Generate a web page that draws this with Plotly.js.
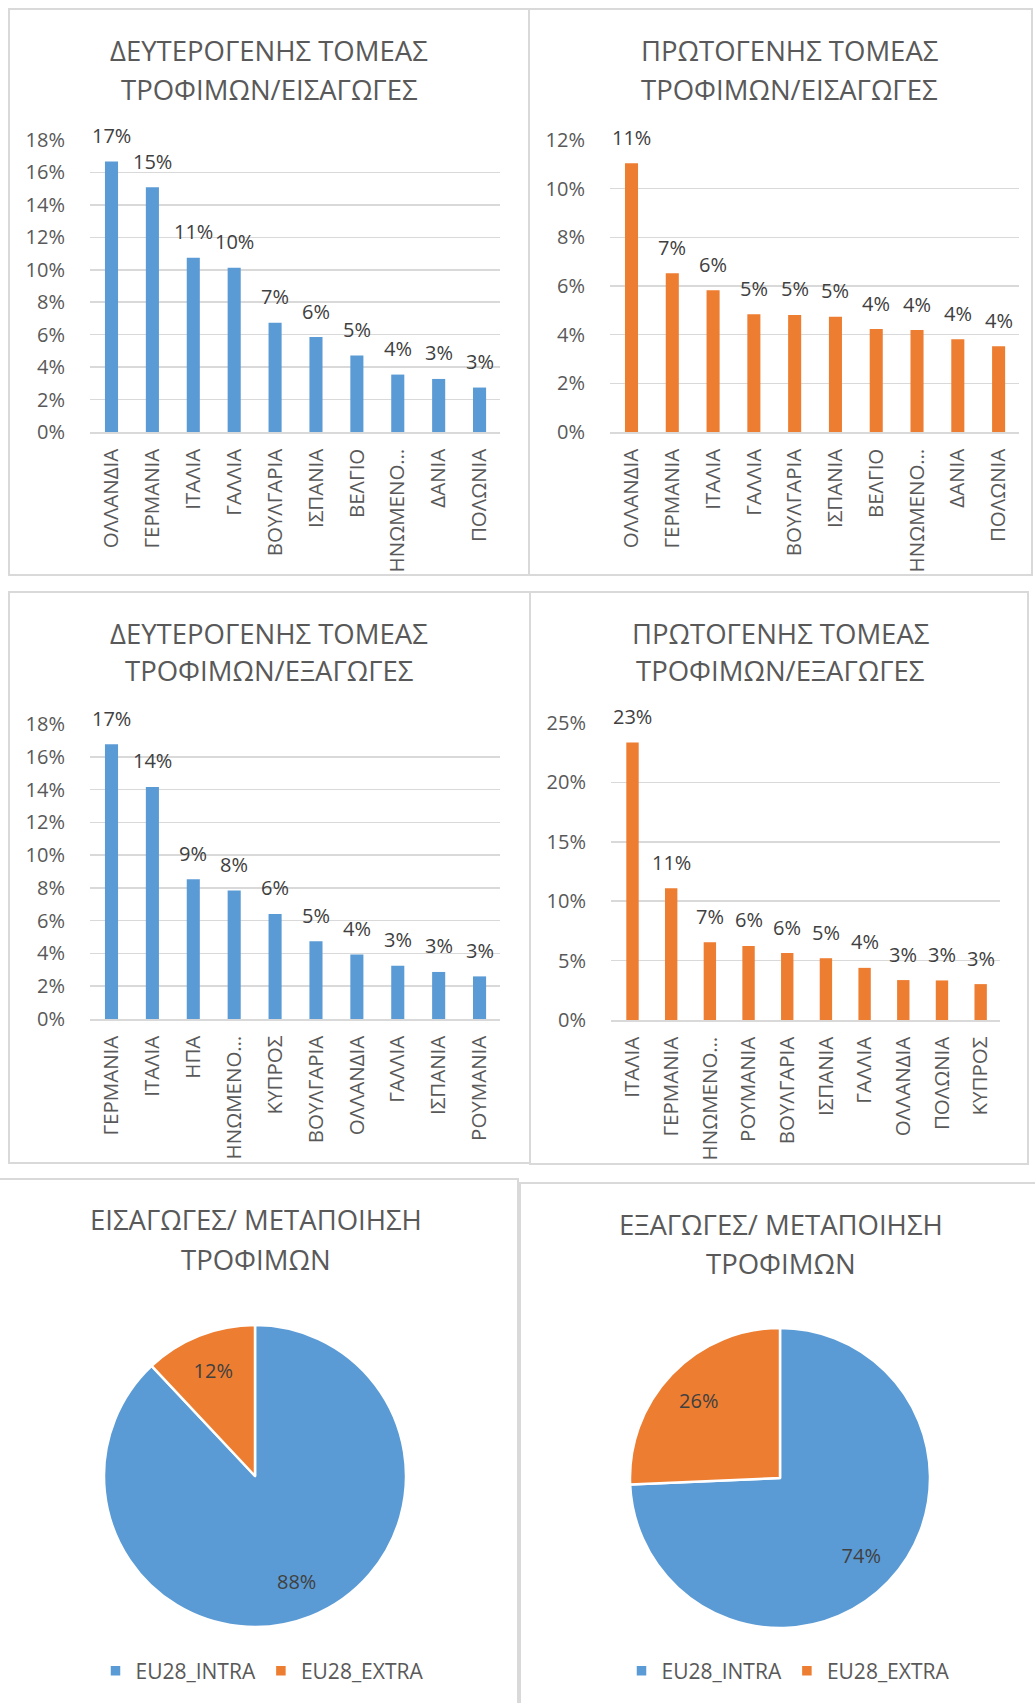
<!DOCTYPE html>
<html>
<head>
<meta charset="utf-8">
<script src="https://cdn.plot.ly/plotly-3.0.1.min.js"></script>
<style>
  html, body { margin: 0; padding: 0; background: #ffffff; }
  body { width: 1035px; height: 1703px; position: relative; overflow: hidden; }
  .panel { position: absolute; }
  .frame { position: absolute; border: 2px solid #d9d9d9; box-sizing: border-box; pointer-events: none; z-index: 5; }
</style>
</head>
<body>
<div id="p1" class="panel"></div>
<div id="p2" class="panel"></div>
<div id="p3" class="panel"></div>
<div id="p4" class="panel"></div>
<div id="p5" class="panel"></div>
<div id="p6" class="panel"></div>
<script>
// ---------------- DATA ----------------
const CATS_SEC_IMP = ['ΟΛΛΑΝΔΙΑ','ΓΕΡΜΑΝΙΑ','ΙΤΑΛΙΑ','ΓΑΛΛΙΑ','ΒΟΥΛΓΑΡΙΑ','ΙΣΠΑΝΙΑ','ΒΕΛΓΙΟ','ΗΝΩΜΕΝΟ…','ΔΑΝΙΑ','ΠΟΛΩΝΙΑ'];
const VALS_SEC_IMP = [0.1667, 0.1508, 0.1074, 0.1012, 0.0674, 0.0585, 0.0471, 0.0354, 0.0327, 0.0274];

const CATS_PRI_IMP = ['ΟΛΛΑΝΔΙΑ','ΓΕΡΜΑΝΙΑ','ΙΤΑΛΙΑ','ΓΑΛΛΙΑ','ΒΟΥΛΓΑΡΙΑ','ΙΣΠΑΝΙΑ','ΒΕΛΓΙΟ','ΗΝΩΜΕΝΟ…','ΔΑΝΙΑ','ΠΟΛΩΝΙΑ'];
const VALS_PRI_IMP = [0.1104, 0.0652, 0.0583, 0.0484, 0.0481, 0.0474, 0.0423, 0.0419, 0.0381, 0.0352];

const CATS_SEC_EXP = ['ΓΕΡΜΑΝΙΑ','ΙΤΑΛΙΑ','ΗΠΑ','ΗΝΩΜΕΝΟ…','ΚΥΠΡΟΣ','ΒΟΥΛΓΑΡΙΑ','ΟΛΛΑΝΔΙΑ','ΓΑΛΛΙΑ','ΙΣΠΑΝΙΑ','ΡΟΥΜΑΝΙΑ'];
const VALS_SEC_EXP = [0.1676, 0.1416, 0.0852, 0.0784, 0.0641, 0.0474, 0.0393, 0.0325, 0.0287, 0.0260];

const CATS_PRI_EXP = ['ΙΤΑΛΙΑ','ΓΕΡΜΑΝΙΑ','ΗΝΩΜΕΝΟ…','ΡΟΥΜΑΝΙΑ','ΒΟΥΛΓΑΡΙΑ','ΙΣΠΑΝΙΑ','ΓΑΛΛΙΑ','ΟΛΛΑΝΔΙΑ','ΠΟΛΩΝΙΑ','ΚΥΠΡΟΣ'];
const VALS_PRI_EXP = [0.2335, 0.1108, 0.0654, 0.0623, 0.0564, 0.0520, 0.0439, 0.0336, 0.0333, 0.0302];

const PIE_LABELS = ['EU28_INTRA', 'EU28_EXTRA'];
const PIE_IMP_VALS = [0.88, 0.12];
const PIE_EXP_VALS = [0.743, 0.257];

const TITLE_SEC_IMP = ['ΔΕΥΤΕΡΟΓΕΝΗΣ ΤΟΜΕΑΣ', 'ΤΡΟΦΙΜΩΝ/ΕΙΣΑΓΩΓΕΣ'];
const TITLE_PRI_IMP = ['ΠΡΩΤΟΓΕΝΗΣ ΤΟΜΕΑΣ', 'ΤΡΟΦΙΜΩΝ/ΕΙΣΑΓΩΓΕΣ'];
const TITLE_SEC_EXP = ['ΔΕΥΤΕΡΟΓΕΝΗΣ ΤΟΜΕΑΣ', 'ΤΡΟΦΙΜΩΝ/ΕΞΑΓΩΓΕΣ'];
const TITLE_PRI_EXP = ['ΠΡΩΤΟΓΕΝΗΣ ΤΟΜΕΑΣ', 'ΤΡΟΦΙΜΩΝ/ΕΞΑΓΩΓΕΣ'];
const TITLE_PIE_IMP = ['ΕΙΣΑΓΩΓΕΣ/ ΜΕΤΑΠΟΙΗΣΗ', 'ΤΡΟΦΙΜΩΝ'];
const TITLE_PIE_EXP = ['ΕΞΑΓΩΓΕΣ/ ΜΕΤΑΠΟΙΗΣΗ', 'ΤΡΟΦΙΜΩΝ'];

// ---------------- STYLE ----------------
const BLUE = '#5b9bd5';
const ORANGE = '#ed7d31';
const GRID = '#d9d9d9';
const AXIS_TXT = '#595959';
const LABEL_TXT = '#404040';
const FONT = '"Open Sans", "Noto Sans", "DejaVu Sans", sans-serif';
const TITLE_SIZE = 27.5;

function place(id, r) {
  const d = document.getElementById(id);
  d.style.left = r.x + 'px'; d.style.top = r.y + 'px';
  d.style.width = r.w + 'px'; d.style.height = r.h + 'px';
}
function frame(r) {
  const f = document.createElement('div');
  f.className = 'frame';
  f.style.left = (r.x - 1) + 'px'; f.style.top = (r.y - 1) + 'px';
  f.style.width = (r.w + 2) + 'px'; f.style.height = (r.h + 2) + 'px';
  document.body.appendChild(f);
}

// one annotation per title line, centred at given page positions
function titleAnns(lines, cx, cys, plot) {
  return lines.map((t, i) => ({
    text: t,
    xref: 'paper', yref: 'paper',
    x: (cx - plot.x0) / (plot.x1 - plot.x0),
    y: (plot.y1 - cys[i]) / (plot.y1 - plot.y0),
    xanchor: 'center', yanchor: 'middle',
    showarrow: false,
    font: { family: FONT, size: TITLE_SIZE, color: AXIS_TXT }
  }));
}

function barPanel(id, rect, plot, cats, vals, color, yMax, dtick, titleLines, tc) {
  place(id, rect);
  frame(rect);
  const anns = titleAnns(titleLines, tc.x, tc.ys, plot);
  cats.forEach((c, i) => {
    anns.push({
      x: c, y: vals[i], xref: 'x', yref: 'y',
      text: Math.round(vals[i] * 100) + '%',
      showarrow: false, xanchor: 'center', yanchor: 'middle', yshift: 26,
      font: { family: FONT, size: 20, color: LABEL_TXT }
    });
  });
  const trace = {
    type: 'bar', x: cats, y: vals,
    marker: { color: color },
    hoverinfo: 'skip'
  };
  const layout = {
    width: rect.w, height: rect.h,
    margin: { l: plot.x0 - rect.x, r: rect.x + rect.w - plot.x1, t: plot.y0 - rect.y, b: rect.y + rect.h - plot.y1, pad: 0, autoexpand: false },
    paper_bgcolor: '#ffffff', plot_bgcolor: '#ffffff',
    showlegend: false,
    bargap: 0.68,
    font: { family: FONT, color: AXIS_TXT },
    xaxis: {
      type: 'category', tickangle: -90,
      showgrid: false, zeroline: false,
      showline: true, linecolor: GRID, linewidth: 1.5,
      ticks: 'outside', ticklen: 7, tickcolor: 'rgba(0,0,0,0)',
      tickfont: { family: FONT, size: 20.5, color: AXIS_TXT },
      fixedrange: true, automargin: false
    },
    yaxis: {
      range: [0, yMax], dtick: dtick, tickformat: '.0%',
      showgrid: true, gridcolor: GRID, gridwidth: 1.5,
      zeroline: false, showline: false,
      ticks: 'outside', ticklen: 20, tickcolor: 'rgba(0,0,0,0)',
      tickfont: { family: FONT, size: 20, color: AXIS_TXT },
      fixedrange: true, automargin: false
    },
    annotations: anns
  };
  Plotly.newPlot(id, [trace], layout, { displayModeBar: false, staticPlot: true });
}

// plot: pie centre (cx, cy) and radius r; plot area is made wider than tall so the
// horizontal legend has room for one row while the pie stays sized by height.
function piePanel(id, rect, pie, labels, vals, titleLines, tc, legendCx, legendCy) {
  place(id, rect);
  frame(rect);
  const halfW = 230;
  const plot = { x0: pie.cx - halfW, x1: pie.cx + halfW, y0: pie.cy - pie.r, y1: pie.cy + pie.r };
  // coloured pie (no text)
  const fill = {
    type: 'pie', labels: labels, values: vals,
    sort: false, direction: 'clockwise', rotation: 0,
    marker: { colors: [BLUE, ORANGE], line: { color: '#ffffff', width: 2.5 } },
    textinfo: 'none',
    hoverinfo: 'skip'
  };
  // transparent ring carrying the percentage labels (places them at ~3/4 radius)
  const labelRing = {
    type: 'pie', labels: labels, values: vals,
    sort: false, direction: 'clockwise', rotation: 0, hole: 0.5,
    marker: { colors: ['rgba(0,0,0,0)', 'rgba(0,0,0,0)'], line: { width: 0 } },
    texttemplate: '%{percent:.0%}', textposition: 'inside',
    insidetextorientation: 'horizontal',
    textfont: { family: FONT, size: 20, color: LABEL_TXT },
    showlegend: false,
    hoverinfo: 'skip'
  };
  const pw = plot.x1 - plot.x0, ph = plot.y1 - plot.y0;
  const layout = {
    width: rect.w, height: rect.h,
    margin: { l: plot.x0 - rect.x, r: rect.x + rect.w - plot.x1, t: plot.y0 - rect.y, b: rect.y + rect.h - plot.y1, pad: 0, autoexpand: false },
    paper_bgcolor: '#ffffff',
    showlegend: true,
    legend: {
      orientation: 'h', xanchor: 'center', yanchor: 'middle',
      x: (legendCx - plot.x0) / pw, y: (plot.y1 - legendCy) / ph,
      font: { family: FONT, size: 21, color: AXIS_TXT },
      itemwidth: 30, traceorder: 'normal'
    },
    annotations: titleAnns(titleLines, tc.x, tc.ys, plot)
  };
  Plotly.newPlot(id, [fill, labelRing], layout, { displayModeBar: false, staticPlot: true });
}

// ---------------- PANELS ----------------
barPanel('p1', { x: 9, y: 9, w: 520, h: 566 }, { x0: 90, x1: 500, y0: 140, y1: 432.5 },
  CATS_SEC_IMP, VALS_SEC_IMP, BLUE, 0.18, 0.02, TITLE_SEC_IMP, { x: 269, ys: [50, 89] });

barPanel('p2', { x: 529, y: 9, w: 503, h: 566 }, { x0: 609.5, x1: 1019.5, y0: 140, y1: 432.5 },
  CATS_PRI_IMP, VALS_PRI_IMP, ORANGE, 0.12, 0.02, TITLE_PRI_IMP, { x: 789, ys: [50, 89] });

barPanel('p3', { x: 9, y: 592, w: 521, h: 571 }, { x0: 90, x1: 500, y0: 724, y1: 1019 },
  CATS_SEC_EXP, VALS_SEC_EXP, BLUE, 0.18, 0.02, TITLE_SEC_EXP, { x: 269, ys: [633, 671] });

barPanel('p4', { x: 530, y: 592, w: 498, h: 572 }, { x0: 611, x1: 1000, y0: 723, y1: 1020 },
  CATS_PRI_EXP, VALS_PRI_EXP, ORANGE, 0.25, 0.05, TITLE_PRI_EXP, { x: 780, ys: [633, 671] });

piePanel('p5', { x: -2, y: 1179, w: 520, h: 530 }, { cx: 255, cy: 1476, r: 151 },
  PIE_LABELS, PIE_IMP_VALS, TITLE_PIE_IMP, { x: 256, ys: [1220, 1259] }, 262, 1671);

piePanel('p6', { x: 520, y: 1183, w: 517, h: 526 }, { cx: 780, cy: 1478, r: 150 },
  PIE_LABELS, PIE_EXP_VALS, TITLE_PIE_EXP, { x: 781, ys: [1224, 1263] }, 788, 1671);
</script>
</body>
</html>
